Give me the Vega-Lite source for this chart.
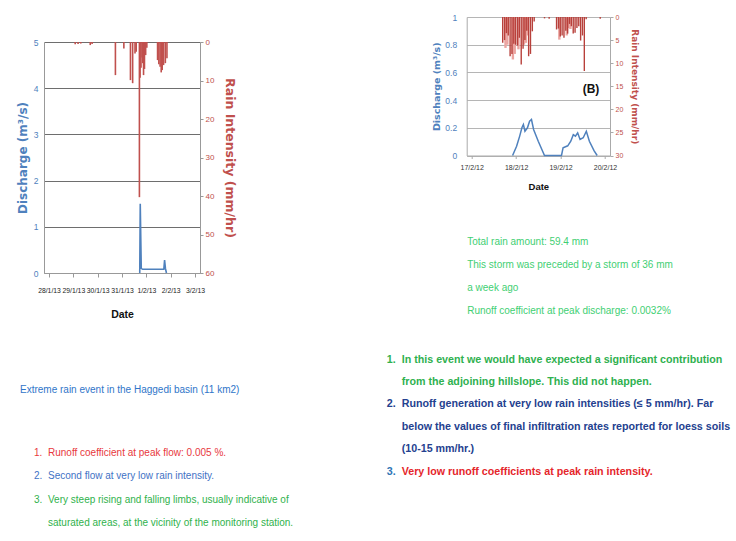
{
  "$schema": "https://vega.github.io/schema/vega-lite/v6.json",
  "background": "white",
  "padding": {"left": 16, "top": 13, "right": 0, "bottom": 0},
  "config": {
    "view": {"stroke": null},
    "font": "Liberation Sans",
    "axis": {"labelFont": "Liberation Sans", "titleFont": "DejaVu Sans"}
  },
  "datasets": {
    "rainA": [
      {"t": "2013-01-29T01:50", "r": 0.6},
      {"t": "2013-01-29T04:40", "r": 0.5},
      {"t": "2013-01-29T07:20", "r": 0.4},
      {"t": "2013-01-29T16:40", "r": 0.8},
      {"t": "2013-01-29T18:30", "r": 0.5},
      {"t": "2013-01-30T17:30", "r": 8.6},
      {"t": "2013-01-31T01:50", "r": 1.7},
      {"t": "2013-01-31T08:20", "r": 9.9},
      {"t": "2013-01-31T10:30", "r": 10.7},
      {"t": "2013-01-31T12:50", "r": 3.0},
      {"t": "2013-01-31T14:00", "r": 2.5},
      {"t": "2013-01-31T17:10", "r": 40.3},
      {"t": "2013-01-31T17:50", "r": 9.3},
      {"t": "2013-01-31T18:45", "r": 6.7},
      {"t": "2013-01-31T19:50", "r": 4.0},
      {"t": "2013-01-31T20:30", "r": 5.5},
      {"t": "2013-01-31T21:15", "r": 8.6},
      {"t": "2013-01-31T22:10", "r": 7.0},
      {"t": "2013-01-31T23:20", "r": 3.4},
      {"t": "2013-02-01T00:30", "r": 1.5},
      {"t": "2013-02-01T11:05", "r": 4.7},
      {"t": "2013-02-01T12:20", "r": 5.8},
      {"t": "2013-02-01T13:35", "r": 6.4},
      {"t": "2013-02-01T14:40", "r": 7.9},
      {"t": "2013-02-01T15:40", "r": 7.3},
      {"t": "2013-02-01T17:00", "r": 6.0},
      {"t": "2013-02-01T18:45", "r": 5.5},
      {"t": "2013-02-01T20:20", "r": 4.2}
    ],
    "qA": [
      {"t": "2013-01-31T17:30", "q": 0},
      {"t": "2013-01-31T18:00", "q": 1.5},
      {"t": "2013-01-31T19:00", "q": 0.1},
      {"t": "2013-01-31T20:20", "q": 0.08},
      {"t": "2013-02-01T06:30", "q": 0.08},
      {"t": "2013-02-01T17:15", "q": 0.08},
      {"t": "2013-02-01T18:00", "q": 0.28},
      {"t": "2013-02-01T18:50", "q": 0.1},
      {"t": "2013-02-01T19:50", "q": 0}
    ],
    "rainB": [
      {"t": "2012-02-17T18:15", "r": 6.7, "gauge": "2"},
      {"t": "2012-02-17T19:15", "r": 6.0, "gauge": "2"},
      {"t": "2012-02-17T22:15", "r": 9.2, "gauge": "2"},
      {"t": "2012-02-17T23:15", "r": 8.0, "gauge": "2"},
      {"t": "2012-02-18T01:15", "r": 7.0, "gauge": "2"},
      {"t": "2012-02-18T04:15", "r": 6.0, "gauge": "2"},
      {"t": "2012-02-18T05:15", "r": 5.6, "gauge": "2"},
      {"t": "2012-02-18T06:15", "r": 4.0, "gauge": "2"},
      {"t": "2012-02-18T23:20", "r": 4.9, "gauge": "2"},
      {"t": "2012-02-19T03:20", "r": 4.0, "gauge": "2"},
      {"t": "2012-02-19T04:20", "r": 2.4, "gauge": "2"},
      {"t": "2012-02-19T05:20", "r": 2.6, "gauge": "2"},
      {"t": "2012-02-17T16:45", "r": 5.6, "gauge": "1"},
      {"t": "2012-02-17T17:45", "r": 5.0, "gauge": "1"},
      {"t": "2012-02-17T18:45", "r": 3.5, "gauge": "1"},
      {"t": "2012-02-17T19:45", "r": 4.0, "gauge": "1"},
      {"t": "2012-02-17T20:45", "r": 8.5, "gauge": "1"},
      {"t": "2012-02-17T21:45", "r": 8.0, "gauge": "1"},
      {"t": "2012-02-17T22:45", "r": 5.8, "gauge": "1"},
      {"t": "2012-02-17T23:45", "r": 6.0, "gauge": "1"},
      {"t": "2012-02-18T00:45", "r": 6.2, "gauge": "1"},
      {"t": "2012-02-18T01:45", "r": 4.5, "gauge": "1"},
      {"t": "2012-02-18T02:45", "r": 10.3, "gauge": "1"},
      {"t": "2012-02-18T03:45", "r": 6.9, "gauge": "1"},
      {"t": "2012-02-18T04:45", "r": 5.0, "gauge": "1"},
      {"t": "2012-02-18T05:45", "r": 3.0, "gauge": "1"},
      {"t": "2012-02-18T06:45", "r": 8.5, "gauge": "1"},
      {"t": "2012-02-18T07:45", "r": 8.0, "gauge": "1"},
      {"t": "2012-02-18T08:45", "r": 3.1, "gauge": "1"},
      {"t": "2012-02-18T09:45", "r": 1.0, "gauge": "1"},
      {"t": "2012-02-18T15:20", "r": 0.3, "gauge": "1"},
      {"t": "2012-02-18T17:50", "r": 0.4, "gauge": "1"},
      {"t": "2012-02-18T21:50", "r": 2.7, "gauge": "1"},
      {"t": "2012-02-18T22:50", "r": 2.5, "gauge": "1"},
      {"t": "2012-02-18T23:50", "r": 4.2, "gauge": "1"},
      {"t": "2012-02-19T00:50", "r": 4.0, "gauge": "1"},
      {"t": "2012-02-19T01:50", "r": 4.5, "gauge": "1"},
      {"t": "2012-02-19T02:50", "r": 3.0, "gauge": "1"},
      {"t": "2012-02-19T03:50", "r": 3.6, "gauge": "1"},
      {"t": "2012-02-19T04:50", "r": 1.5, "gauge": "1"},
      {"t": "2012-02-19T05:50", "r": 2.0, "gauge": "1"},
      {"t": "2012-02-19T06:50", "r": 3.6, "gauge": "1"},
      {"t": "2012-02-19T07:50", "r": 3.4, "gauge": "1"},
      {"t": "2012-02-19T08:50", "r": 2.4, "gauge": "1"},
      {"t": "2012-02-19T09:50", "r": 2.0, "gauge": "1"},
      {"t": "2012-02-19T10:50", "r": 5.1, "gauge": "1"},
      {"t": "2012-02-19T11:50", "r": 4.0, "gauge": "1"},
      {"t": "2012-02-19T12:50", "r": 11.7, "gauge": "1"},
      {"t": "2012-02-19T13:50", "r": 0.5, "gauge": "1"},
      {"t": "2012-02-19T21:25", "r": 0.4, "gauge": "1"}
    ],
    "qB": [
      {"t": "2012-02-17T22:05", "q": 0},
      {"t": "2012-02-18T00:15", "q": 0.067},
      {"t": "2012-02-18T01:55", "q": 0.14},
      {"t": "2012-02-18T03:07", "q": 0.2},
      {"t": "2012-02-18T03:55", "q": 0.224},
      {"t": "2012-02-18T04:46", "q": 0.175},
      {"t": "2012-02-18T06:07", "q": 0.2},
      {"t": "2012-02-18T07:16", "q": 0.248},
      {"t": "2012-02-18T08:17", "q": 0.26},
      {"t": "2012-02-18T09:26", "q": 0.188},
      {"t": "2012-02-18T11:57", "q": 0.103},
      {"t": "2012-02-18T15:19", "q": 0},
      {"t": "2012-02-19T00:30", "q": 0},
      {"t": "2012-02-19T01:21", "q": 0.055},
      {"t": "2012-02-19T03:52", "q": 0.07},
      {"t": "2012-02-19T05:31", "q": 0.103},
      {"t": "2012-02-19T06:53", "q": 0.15},
      {"t": "2012-02-19T08:02", "q": 0.14},
      {"t": "2012-02-19T09:14", "q": 0.164},
      {"t": "2012-02-19T10:32", "q": 0.116},
      {"t": "2012-02-19T12:14", "q": 0.128},
      {"t": "2012-02-19T13:55", "q": 0.175},
      {"t": "2012-02-19T15:34", "q": 0.103},
      {"t": "2012-02-19T18:04", "q": 0.035},
      {"t": "2012-02-19T19:46", "q": 0}
    ],
    "labelB": [
      {"t": "2012-02-19T16:25", "q": 0.48, "label": "(B)"}
    ],
    "noteB": [
      {"line": 1, "text": "Total rain amount: 59.4 mm"},
      {"line": 2, "text": "This storm was preceded by a storm of 36 mm"},
      {"line": 3, "text": "a week ago"},
      {"line": 4, "text": "Runoff coefficient at peak discharge: 0.0032%"}
    ],
    "listA": [
      {"item": 1, "line": 1, "level": 1, "text": "1."},
      {"item": 1, "line": 1, "level": 2, "text": "Runoff coefficient at peak flow: 0.005 %."},
      {"item": 2, "line": 2, "level": 1, "text": "2."},
      {"item": 2, "line": 2, "level": 2, "text": "Second flow at very low rain intensity."},
      {"item": 3, "line": 3, "level": 1, "text": "3."},
      {"item": 3, "line": 3, "level": 2, "text": "Very steep rising and falling limbs, usually indicative of"},
      {"item": 3, "line": 4, "level": 2, "text": "saturated areas, at the vicinity of the monitoring station."}
    ],
    "listB": [
      {"item": 1, "line": 1, "level": 1, "text": "1."},
      {"item": 1, "line": 1, "level": 2, "text": "In this event we would have expected a significant contribution"},
      {"item": 1, "line": 2, "level": 2, "text": "from the adjoining hillslope. This did not happen."},
      {"item": 2, "line": 3, "level": 1, "text": "2."},
      {"item": 2, "line": 3, "level": 2, "text": "Runoff generation at very low rain intensities (≤ 5  mm/hr). Far"},
      {"item": 2, "line": 4, "level": 2, "text": "below the values of final infiltration rates reported for loess soils"},
      {"item": 2, "line": 5, "level": 2, "text": "(10-15 mm/hr.)"},
      {"item": 3, "line": 6, "level": 1, "text": "3."},
      {"item": 3, "line": 6, "level": 2, "text": "Very low runoff coefficients at peak rain intensity."}
    ]
  },
  "bounds": "flush",
  "spacing": 366.7,
  "resolve": {"scale": {"color": "independent"}},
  "hconcat": [
    {
      "bounds": "flush",
      "spacing": 0,
      "resolve": {"scale": {"color": "independent"}},
      "vconcat": [
        {"width": 1, "height": 24.5, "data": {"values": []}, "mark": {"type": "point", "opacity": 0}},
        {
          "bounds": "flush",
          "spacing": 0,
          "hconcat": [
            {"width": 24, "height": 1, "data": {"values": []}, "mark": {"type": "point", "opacity": 0}},
            {
              "width": 156,
              "height": 231,
              "layer": [
                {
                  "data": {"name": "rainA"},
                  "mark": {"type": "bar", "width": 1.6, "color": "#c0504d"},
                  "encoding": {
                    "x": {
                      "field": "t", "type": "temporal",
                      "scale": {"domain": [{"year": 2013, "month": 1, "date": 28}, {"year": 2013, "month": 2, "date": 3}], "nice": false},
                      "axis": {"title": "Date", "format": "%-d/%-m/%y", "tickCount": {"interval": "day", "step": 1}, "labelAngle": 0, "labelFlush": false, "labelOverlap": false, "labelFontSize": 6.8, "labelColor": "#222", "labelPadding": 10, "tickSize": 4, "tickColor": "#999", "domainColor": "#999", "grid": false, "titleFont": "Liberation Sans", "titleFontSize": 10.5, "titleFontWeight": "bold", "titleColor": "#111", "titlePadding": 16}
                    },
                    "y": {
                      "field": "r", "type": "quantitative",
                      "scale": {"domain": [0, 60], "reverse": true, "nice": false},
                      "axis": {"orient": "right", "values": [0, 10, 20, 30, 40, 50, 60], "grid": false, "tickSize": 3, "tickColor": "#999", "domainColor": "#999", "labelColor": "#c0504d", "labelFontSize": 8, "labelPadding": 2, "title": "Rain Intensity (mm/hr)", "titleColor": "#c0504d", "titleFontSize": 12.5, "titleFontWeight": "bold", "titlePadding": 9}
                    }
                  }
                },
                {
                  "data": {"name": "qA"},
                  "mark": {"type": "line", "color": "#4f81bd", "strokeWidth": 1.6},
                  "encoding": {
                    "x": {"field": "t", "type": "temporal"},
                    "y": {
                      "field": "q", "type": "quantitative",
                      "scale": {"domain": [0, 5], "nice": false},
                      "axis": {"orient": "left", "values": [0, 1, 2, 3, 4, 5], "grid": true, "gridColor": "#6e6e6e", "ticks": false, "domainColor": "#999", "labelColor": "#4f81bd", "labelFontSize": 8.5, "labelPadding": 6, "title": "Discharge (m³/s)", "titleColor": "#4f81bd", "titleFontSize": 12, "titleFontWeight": "bold", "titlePadding": 4}
                    }
                  }
                }
              ],
              "resolve": {"scale": {"y": "independent"}}
            }
          ]
        },
        {"width": 1, "height": 285, "data": {"values": []}, "mark": {"type": "point", "opacity": 0}},
        {
          "width": 28,
          "height": 126,
          "data": {"values": [{"level": 0, "text": "Extreme rain event in the Haggedi basin (11 km2)"}]},
          "mark": {"type": "text", "align": "left", "baseline": "middle", "fontSize": 10, "color": "#2f75c9"},
          "encoding": {
            "x": {"field": "level", "type": "quantitative", "scale": {"domain": [0, 2], "nice": false, "zero": false}, "axis": null},
            "text": {"field": "text"}
          }
        },
        {
          "width": 28,
          "height": 70,
          "data": {"name": "listA"},
          "mark": {"type": "text", "align": "left", "baseline": "middle", "fontSize": 10},
          "encoding": {
            "x": {"field": "level", "type": "quantitative", "scale": {"domain": [0, 2], "nice": false, "zero": false}, "axis": null},
            "y": {"field": "line", "type": "ordinal", "scale": {"type": "point", "padding": 0}, "axis": null},
            "color": {"field": "item", "type": "nominal", "scale": {"domain": [1, 2, 3], "range": ["#e8383d", "#3f72c5", "#2fb24c"]}, "legend": null},
            "text": {"field": "text"}
          }
        }
      ]
    },
    {
      "bounds": "flush",
      "spacing": 342.5,
      "resolve": {"scale": {"color": "independent"}},
      "vconcat": [
        {
          "bounds": "flush",
          "spacing": 0,
          "hconcat": [
            {"width": 80, "height": 1, "data": {"values": []}, "mark": {"type": "point", "opacity": 0}},
            {
              "bounds": "flush",
              "spacing": 85.7,
              "vconcat": [
                {
                  "width": 143.3,
                  "height": 138.5,
                  "layer": [
                    {
                      "data": {"name": "rainB"},
                      "mark": {"type": "bar", "width": 1.4},
                      "encoding": {
                        "x": {
                          "field": "t", "type": "temporal",
                          "scale": {"domain": [{"year": 2012, "month": 2, "date": 17}, {"year": 2012, "month": 2, "date": 20}], "nice": false},
                          "axis": {"title": "Date", "format": "%-d/%-m/%y", "tickCount": {"interval": "day", "step": 1}, "labelAngle": 0, "labelFlush": false, "labelOverlap": false, "labelFontSize": 7, "labelColor": "#333", "labelPadding": 5, "tickSize": 3, "tickColor": "#aaa", "domainColor": "#aaa", "grid": false, "titleFont": "Liberation Sans", "titleFontSize": 9.5, "titleFontWeight": "bold", "titleColor": "#111", "titlePadding": 11}
                        },
                        "y": {
                          "field": "r", "type": "quantitative", "stack": null,
                          "scale": {"domain": [0, 30], "reverse": true, "nice": false},
                          "axis": {"orient": "right", "values": [0, 5, 10, 15, 20, 25, 30], "grid": false, "tickSize": 3, "tickColor": "#aaa", "domainColor": "#aaa", "labelColor": "#c0504d", "labelFontSize": 7, "labelPadding": 2, "title": "Rain Intensity (mm/hr)", "titleColor": "#c0504d", "titleFontSize": 9, "titleFontWeight": "bold", "titlePadding": 7}
                        },
                        "color": {"field": "gauge", "type": "nominal", "scale": {"domain": ["1", "2"], "range": ["#b8403b", "#eba5a1"]}, "legend": null},
                        "size": {"field": "gauge", "type": "nominal", "scale": {"domain": ["1", "2"], "range": [1.4, 2.4]}, "legend": null}
                      }
                    },
                    {
                      "data": {"name": "qB"},
                      "mark": {"type": "line", "color": "#4f81bd", "strokeWidth": 1.5},
                      "encoding": {
                        "x": {"field": "t", "type": "temporal"},
                        "y": {
                          "field": "q", "type": "quantitative",
                          "scale": {"domain": [0, 1], "nice": false},
                          "axis": {"orient": "left", "values": [0, 0.2, 0.4, 0.6, 0.8, 1], "format": "~g", "grid": true, "gridColor": "#b5b5b5", "ticks": false, "domainColor": "#aaa", "labelColor": "#4f81bd", "labelFontSize": 8.5, "labelPadding": 10, "title": "Discharge (m³/s)", "titleColor": "#4f81bd", "titleFontSize": 9.5, "titleFontWeight": "bold", "titlePadding": 3}
                        }
                      }
                    },
                    {
                      "data": {"name": "labelB"},
                      "mark": {"type": "text", "fontSize": 12, "fontWeight": "bold", "color": "#111"},
                      "encoding": {
                        "x": {"field": "t", "type": "temporal"},
                        "y": {"field": "q", "type": "quantitative", "scale": {"domain": [0, 1], "nice": false}, "axis": null},
                        "text": {"field": "label"}
                      }
                    }
                  ],
                  "resolve": {"scale": {"y": "independent", "color": "independent"}}
                },
                {
                  "width": 1,
                  "height": 69,
                  "data": {"name": "noteB"},
                  "mark": {"type": "text", "align": "left", "baseline": "middle", "fontSize": 10, "color": "#3fcf73"},
                  "encoding": {
                    "y": {"field": "line", "type": "ordinal", "scale": {"type": "point", "padding": 0}, "axis": null},
                    "text": {"field": "text"}
                  }
                }
              ]
            }
          ]
        },
        {
          "width": 15,
          "height": 112,
          "data": {"name": "listB"},
          "mark": {"type": "text", "align": "left", "baseline": "middle", "fontSize": 10.7, "fontWeight": "bold"},
          "encoding": {
            "x": {"field": "level", "type": "quantitative", "scale": {"domain": [1, 2], "nice": false, "zero": false}, "axis": null},
            "y": {"field": "line", "type": "ordinal", "scale": {"type": "point", "padding": 0}, "axis": null},
            "color": {
              "condition": {"test": "datum.item === 3 && datum.level === 1", "value": "#2e75b6"},
              "field": "item", "type": "nominal",
              "scale": {"domain": [1, 2, 3], "range": ["#2fb14f", "#24418f", "#e5262b"]},
              "legend": null
            },
            "text": {"field": "text"}
          }
        }
      ]
    }
  ]
}
